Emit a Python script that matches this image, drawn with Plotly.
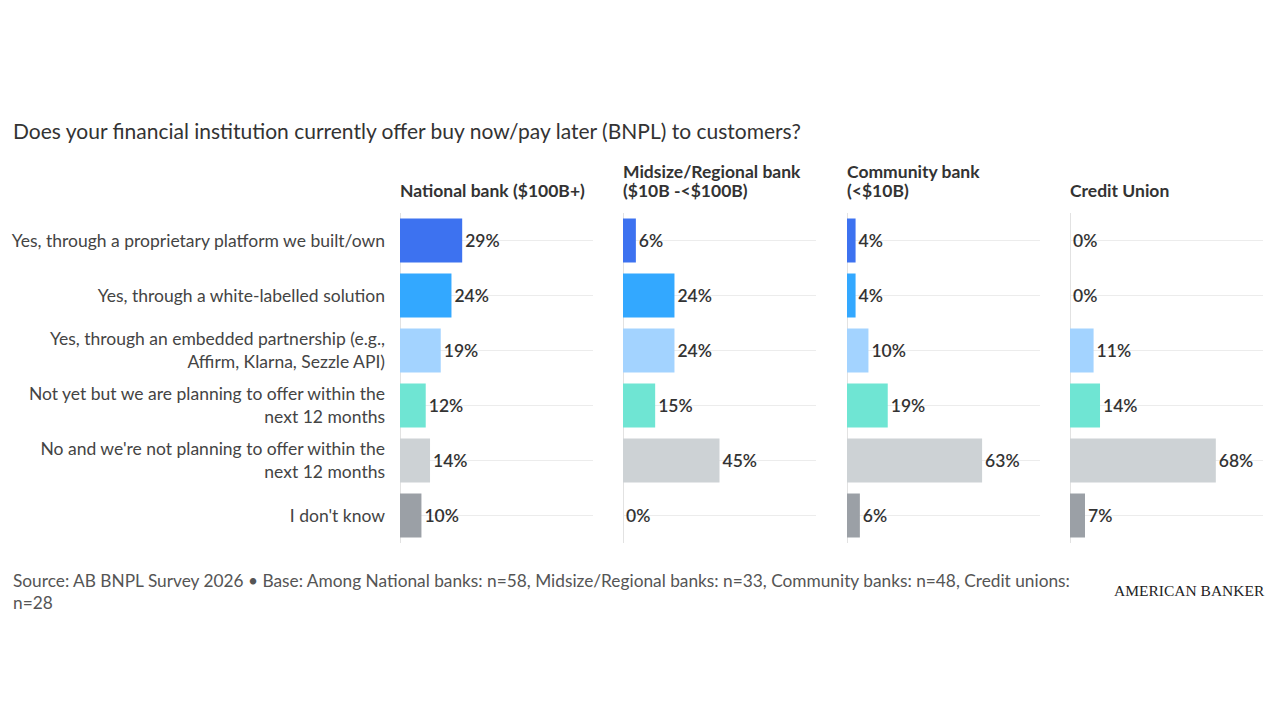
import plotly.graph_objects as go

# survey answers, top to bottom
answers = [
    "Yes, through a proprietary platform we built/own",
    "Yes, through a white-labelled solution",
    "Yes, through an embedded partnership (e.g.,<br>Affirm, Klarna, Sezzle API)",
    "Not yet but we are planning to offer within the<br>next 12 months",
    "No and we're not planning to offer within the<br>next 12 months",
    "I don't know",
]

# column headers, one list per line (top line is empty when the header is one line)
panel_titles_top = ["", "Midsize/Regional bank", "Community bank", ""]
panel_titles_bottom = ["National bank ($100B+)", "($10B -<$100B)", "(<$10B)", "Credit Union"]

national = [29, 24, 19, 12, 14, 10]
midsize = [6, 24, 24, 15, 45, 0]
community = [4, 4, 10, 19, 63, 6]
credit_union = [0, 0, 11, 14, 68, 7]

bar_colors = ["#3d72f0", "#33a8ff", "#a3d3ff", "#6fe5d3", "#cdd2d5", "#9ba0a6"]

# page body has an 8px margin, so the figure is a bit smaller than the window
OFF = 8
W, H = 1280 - 2 * OFF, 720 - 2 * OFF
FONT = "Lato"

def px_x(p):
    return (p - OFF) / W

def px_y(p):
    return 1 - (p - OFF) / H

panel_left = [400, 623, 847, 1070]
panel_w = 193
plot_top, plot_bottom = 213, 543

fig = go.Figure()

series = [national, midsize, community, credit_union]
for i, vals in enumerate(series):
    n = "" if i == 0 else str(i + 1)
    fig.add_trace(go.Bar(
        x=vals, y=answers, orientation="h",
        marker=dict(color=bar_colors, line=dict(width=0)),
        texttemplate="%{x}%", textposition="outside",
        textfont=dict(family=FONT, size=17.5, color="#333333", weight=600),
        cliponaxis=False, showlegend=False,
        xaxis="x" + n, yaxis="y" + n,
    ))
    fig.layout["xaxis" + n] = dict(
        domain=[px_x(panel_left[i]), px_x(panel_left[i] + panel_w)],
        range=[0, 90], showgrid=False, showticklabels=False,
        zeroline=True, zerolinecolor="#e2e2e2", zerolinewidth=1,
        fixedrange=True, anchor="y" + n,
    )
    fig.layout["yaxis" + n] = dict(
        domain=[px_y(plot_bottom), px_y(plot_top)],
        categoryorder="array", categoryarray=answers[::-1],
        showgrid=True, gridcolor="#ececec", gridwidth=1,
        showticklabels=(i == 0), ticks="", ticklabelstandoff=14,
        tickfont=dict(family=FONT, size=17.5, color="#444444"),
        automargin=False, anchor="x" + n,
    )
    for txt, yc in [(panel_titles_top[i], 172), (panel_titles_bottom[i], 190)]:
        if txt:
            fig.add_annotation(
                text="<b>" + txt + "</b>", xref="paper", yref="paper",
                x=px_x(panel_left[i] - 2), y=px_y(yc), xanchor="left", yanchor="middle",
                showarrow=False,
                font=dict(family=FONT, size=17.5, color="#333333"),
            )

fig.add_annotation(
    text="Does your financial institution currently offer buy now/pay later (BNPL) to customers?",
    xref="paper", yref="paper", x=px_x(11), y=px_y(130),
    xanchor="left", yanchor="middle", showarrow=False,
    font=dict(family=FONT, size=21, color="#333333"),
)

fig.add_annotation(
    text="Source: AB BNPL Survey 2026 • Base: Among National banks: n=58, Midsize/Regional banks: n=33, "
         "Community banks: n=48, Credit unions:<br>n=28",
    xref="paper", yref="paper", x=px_x(11), y=px_y(568),
    xanchor="left", yanchor="top", align="left", showarrow=False,
    font=dict(family=FONT, size=17.3, color="#555555"),
)

fig.add_annotation(
    text="AMERICAN BANKER", xref="paper", yref="paper",
    x=px_x(1267), y=px_y(590), xanchor="right", yanchor="middle", showarrow=False,
    font=dict(family="Liberation Serif", size=15.5, color="#222222"),
)

fig.update_layout(
    width=W, height=H,
    margin=dict(l=0, r=0, t=0, b=0),
    paper_bgcolor="white", plot_bgcolor="white",
    bargap=0.2,
)

fig.write_html("out.html")
